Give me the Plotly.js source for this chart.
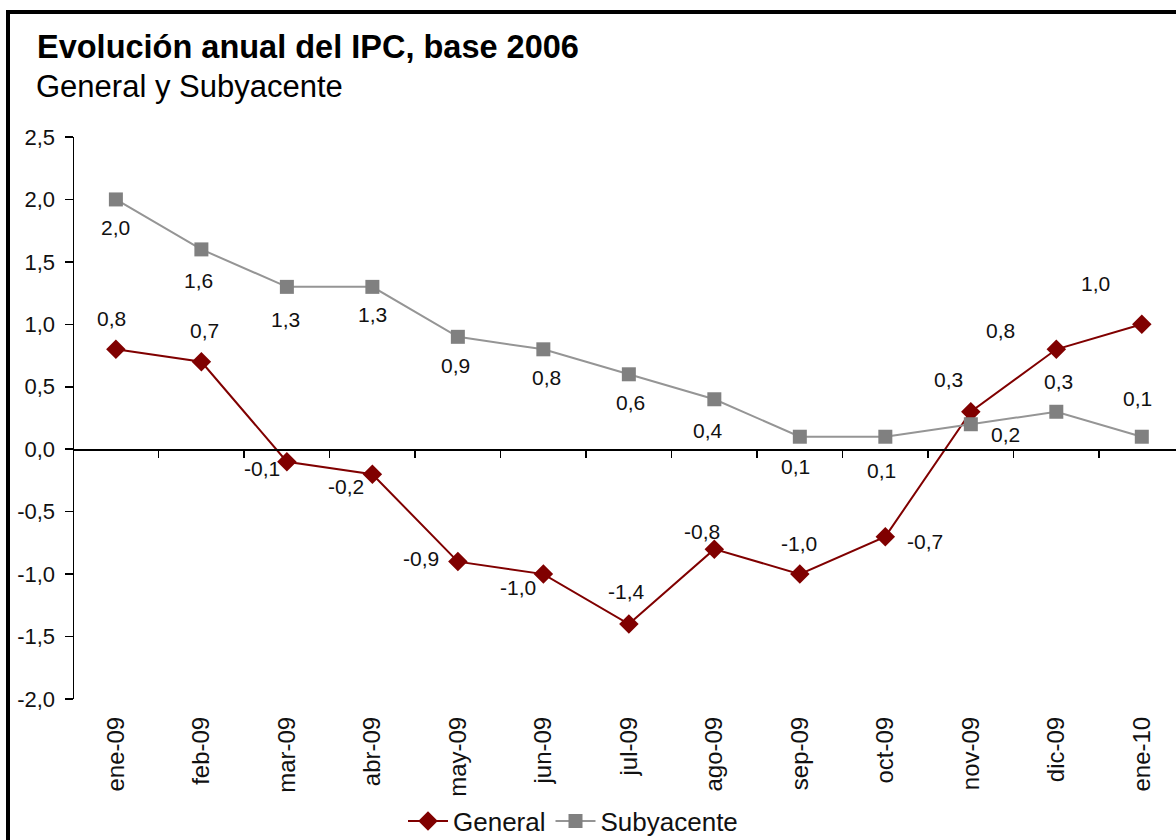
<!DOCTYPE html>
<html>
<head>
<meta charset="utf-8">
<script src="https://cdn.plot.ly/plotly-3.0.1.min.js"></script>
<style>
html, body { margin: 0; padding: 0; overflow: hidden; background: #fff; }
#chart { width: 1176px; height: 840px; position: absolute; left: 0; top: 0; }
#frame { position: absolute; left: 6px; top: 10px; width: 1300px; height: 1000px; border: 4px solid #000; pointer-events: none; }
</style>
</head>
<body>
<div id="chart"></div>
<div id="frame"></div>
<script>
const categories = ['ene-09','feb-09','mar-09','abr-09','may-09','jun-09','jul-09','ago-09','sep-09','oct-09','nov-09','dic-09','ene-10'];
const general = [0.8, 0.7, -0.1, -0.2, -0.9, -1.0, -1.4, -0.8, -1.0, -0.7, 0.3, 0.8, 1.0];
const subyacente = [2.0, 1.6, 1.3, 1.3, 0.9, 0.8, 0.6, 0.4, 0.1, 0.1, 0.2, 0.3, 0.1];
const yTickVals = [-2.0, -1.5, -1.0, -0.5, 0.0, 0.5, 1.0, 1.5, 2.0, 2.5];
const yTickText = ['-2,0', '-1,5', '-1,0', '-0,5', '0,0', '0,5', '1,0', '1,5', '2,0', '2,5'];

// label offsets in pixels (style only): [dx, dy] with dy positive = downward
const generalOff = [[-4,-31],[3,-31],[-25,7],[-26,12],[-37,-3],[-25,13],[-2,-33],[-12,-18],[-1,-31],[40,5],[-22,-32],[-56,-19],[-46,-41]];
const subyOff = [[0,28],[-3,31],[-1,33],[0,28],[-2,29],[3,28],[2,28],[-6,31],[-4,30],[-4,34],[35,10],[2,-30],[-4,-38]];

const fmt = v => v.toFixed(1).replace('.', ',');
const idx = categories.map((_, i) => i);

const FONT = 'Liberation Sans, Arial, sans-serif';
const LABEL_FONT = { family: FONT, size: 21, color: '#111' };

const traces = [
  {
    x: idx, y: general, name: 'General', type: 'scatter', mode: 'lines+markers',
    line: { color: '#800000', width: 2 },
    marker: { symbol: 'diamond', size: 15, color: '#800000' },
    cliponaxis: false
  },
  {
    x: idx, y: subyacente, name: 'Subyacente', type: 'scatter', mode: 'lines+markers',
    line: { color: '#959595', width: 2 },
    marker: { symbol: 'square', size: 14, color: '#808080' },
    cliponaxis: false
  },
  {
    x: idx, y: general, xaxis: 'x2', type: 'scatter', mode: 'none', showlegend: false, hoverinfo: 'skip'
  }
];

const labelAnn = (vals, offs) => vals.map((v, i) => ({
  x: i, y: v, xref: 'x', yref: 'y', text: fmt(v), showarrow: false,
  xanchor: 'center', yanchor: 'middle', xshift: offs[i][0], yshift: -offs[i][1],
  font: LABEL_FONT
}));

const xr = [-0.49, 12.40];
const layout = {
  width: 1176, height: 840,
  margin: { l: 74, r: 0, t: 137, b: 141, autoexpand: false },
  paper_bgcolor: '#fff', plot_bgcolor: '#fff',
  font: { family: FONT, color: '#111' },
  title: {
    text: '<b>Evolución anual del IPC, base 2006</b>',
    font: { family: FONT, size: 32.5, color: '#000' },
    xref: 'container', yref: 'container', x: 37 / 1176, xanchor: 'left',
    y: 1 - 47 / 840, yanchor: 'middle'
  },
  annotations: [{
    text: 'General y Subyacente', showarrow: false,
    xref: 'paper', yref: 'paper', x: (34 - 74) / 1102, xanchor: 'left',
    y: (699 - 87) / 562, yanchor: 'middle',
    font: { family: FONT, size: 31, color: '#000' }
  }].concat(labelAnn(general, generalOff), labelAnn(subyacente, subyOff)),
  xaxis: {
    range: xr, tickmode: 'array', tickvals: idx, ticktext: categories,
    tickangle: -90, showgrid: false, zeroline: false, showline: false,
    ticks: '', ticklabelstandoff: 12, automargin: false,
    tickfont: { family: FONT, size: 24, color: '#111' }
  },
  xaxis2: {
    range: xr, overlaying: 'x', anchor: 'free', position: 2 / 4.5, side: 'bottom',
    tickmode: 'array', tickvals: idx.map(i => i + 0.5), showticklabels: false,
    ticks: 'outside', ticklen: 7, tickcolor: '#000', tickwidth: 1.5,
    showline: true, linecolor: '#000', linewidth: 1.5, showgrid: false, zeroline: false
  },
  yaxis: {
    range: [-2.0, 2.5], tickmode: 'array', tickvals: yTickVals, ticktext: yTickText,
    showgrid: false, zeroline: false, showline: true, linecolor: '#000', linewidth: 1.5,
    ticks: 'outside', ticklen: 8, tickcolor: '#000', tickwidth: 1.5, automargin: false,
    ticklabelstandoff: 5,
    tickfont: { family: FONT, size: 22, color: '#111' }
  },
  showlegend: true,
  legend: {
    orientation: 'h', x: (573 - 74) / 1102, xanchor: 'center',
    y: (699 - 821) / 562, yanchor: 'middle',
    font: { family: FONT, size: 26, color: '#111' },
    bgcolor: 'rgba(0,0,0,0)', itemwidth: 40, tracegroupgap: 0
  }
};

Plotly.newPlot('chart', traces, layout, { displayModeBar: false, staticPlot: true });
</script>
</body>
</html>
